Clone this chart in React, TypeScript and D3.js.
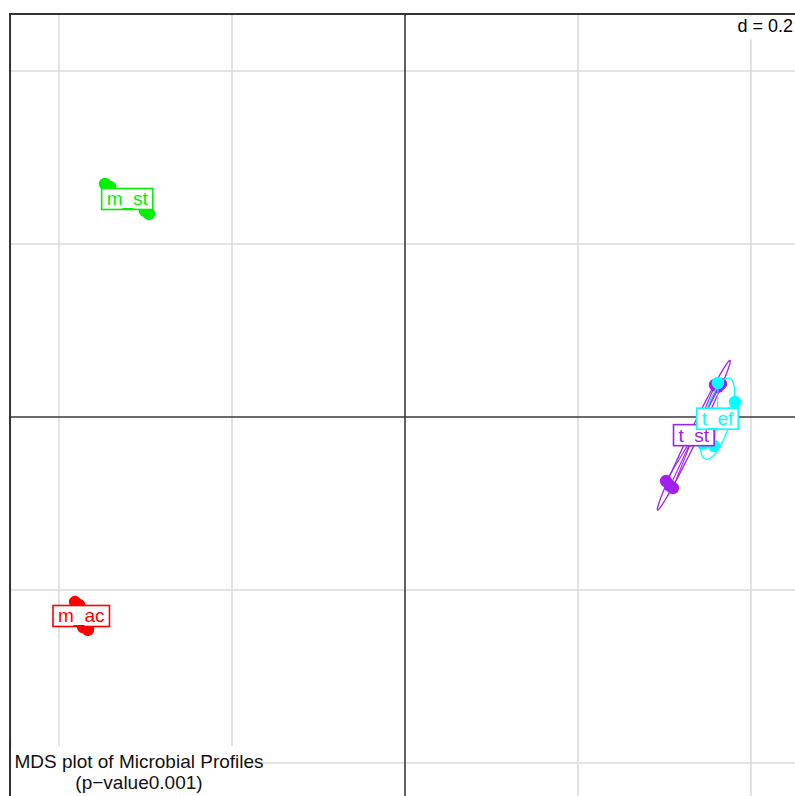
import React, { useEffect, useRef } from "react";
import * as d3 from "d3";

const W = 795;
const H = 796;

// group names & colours
const groups = ["m_st", "m_ac", "t_st", "t_ef"];
const groupColors = ["#00ee00", "#ff0000", "#a020f0", "#00ffff"];
const ellipseGroups = ["t_st", "t_ef"];

// sample coordinates (MDS axis 1, axis 2)
const mStX = [-0.3468, -0.341, -0.3006, -0.296];
const mStY = [0.2694, 0.2659, 0.2382, 0.2347];
const mAcX = [-0.3815, -0.3769, -0.3723, -0.3665];
const mAcY = [-0.2139, -0.2173, -0.2428, -0.2462];
const tStX = [0.3584, 0.3618, 0.3653, 0.3017, 0.3064, 0.3098];
const tStY = [0.037, 0.0347, 0.0382, -0.074, -0.0798, -0.0821];
const tEfX = [0.3618, 0.3815, 0.3572, 0.3445];
const tEfY = [0.0393, 0.0175, -0.0335, -0.031];

const groupXs = [mStX, mAcX, tStX, tEfX];
const groupYs = [mStY, mAcY, tStY, tEfY];

const gridTicks = [-0.4, -0.2, 0, 0.2, 0.4];
const gridStep = "d = 0.2";
const titleLines = ["MDS plot of Microbial Profiles", "(p\u2212value0.001)"];

const xLim = [-0.4566, 0.4566];
const yLim = [-0.4659, 0.4659];

export default function App() {
  const ref = useRef<SVGSVGElement>(null);

  useEffect(() => {
    document.body.style.margin = "0";
    const svg = d3.select(ref.current);
    svg.selectAll("*").remove();

    const x = d3.scaleLinear().domain([-0.4, 0.4]).range([59, 751]);
    const y = d3.scaleLinear().domain([-0.4, 0.4]).range([763, 71]);
    const font = "'Liberation Sans', Arial, Helvetica, sans-serif";

    const canvas = document.createElement("canvas");
    const ctx = canvas.getContext("2d")!;

    // background
    svg.append("rect").attr("x", 0).attr("y", 0).attr("width", W).attr("height", H).attr("fill", "#fff");

    // grid
    const grid = svg.append("g");
    gridTicks.forEach((t) => {
      if (t === 0) return;
      grid.append("line").attr("x1", x(t)).attr("x2", x(t)).attr("y1", y(yLim[1])).attr("y2", y(yLim[0]))
        .attr("stroke", "#dadada").attr("stroke-width", 1.5);
      grid.append("line").attr("y1", y(t)).attr("y2", y(t)).attr("x1", x(xLim[0])).attr("x2", x(xLim[1]))
        .attr("stroke", "#dadada").attr("stroke-width", 1.5);
    });
    // axes
    grid.append("line").attr("x1", x(0)).attr("x2", x(0)).attr("y1", y(yLim[1])).attr("y2", y(yLim[0]))
      .attr("stroke", "#3a3a3a").attr("stroke-width", 1.6);
    grid.append("line").attr("y1", y(0)).attr("y2", y(0)).attr("x1", x(xLim[0])).attr("x2", x(xLim[1]))
      .attr("stroke", "#3a3a3a").attr("stroke-width", 1.6);

    const line = d3.line<[number, number]>().x((d) => x(d[0])).y((d) => y(d[1]));

    const centroids: [number, number][] = [];
    groups.forEach((g, i) => {
      const xs = groupXs[i];
      const ys = groupYs[i];
      const n = xs.length;
      const mx = d3.mean(xs)!;
      const my = d3.mean(ys)!;
      centroids.push([mx, my]);
      const col = groupColors[i];
      const layer = svg.append("g");

      if (ellipseGroups.includes(g)) {
        let vx = 0, vy = 0, cxy = 0;
        for (let k = 0; k < n; k++) {
          vx += (xs[k] - mx) ** 2;
          vy += (ys[k] - my) ** 2;
          cxy += (xs[k] - mx) * (ys[k] - my);
        }
        vx /= n; vy /= n; cxy /= n;
        const tr = vx + vy;
        const det = vx * vy - cxy * cxy;
        const disc = Math.sqrt(Math.max(tr * tr / 4 - det, 0));
        const l1 = tr / 2 + disc;
        const l2 = Math.max(tr / 2 - disc, 0);
        const ang = Math.atan2(l1 - vx, cxy);
        const a = 1.5 * Math.sqrt(l1);
        const b = 1.5 * Math.sqrt(l2);
        const pts: [number, number][] = d3.range(0, 361, 3).map((deg) => {
          const t = (deg * Math.PI) / 180;
          const ex = a * Math.cos(t);
          const ey = b * Math.sin(t);
          return [mx + ex * Math.cos(ang) - ey * Math.sin(ang), my + ex * Math.sin(ang) + ey * Math.cos(ang)];
        });
        layer.append("path").attr("d", line(pts)!).attr("fill", "none").attr("stroke", col).attr("stroke-width", 1.3);
      }
      // star segments
      for (let k = 0; k < n; k++) {
        layer.append("line").attr("x1", x(mx)).attr("y1", y(my)).attr("x2", x(xs[k])).attr("y2", y(ys[k]))
          .attr("stroke", col).attr("stroke-width", 1.1);
      }
      // points
      for (let k = 0; k < n; k++) {
        layer.append("circle").attr("cx", x(xs[k])).attr("cy", y(ys[k])).attr("r", 6.2).attr("fill", col);
      }
    });

    // labels
    ctx.font = `19px ${font}`;
    groups.forEach((g, i) => {
      const [mx, my] = centroids[i];
      const w = ctx.measureText(g).width + 10;
      const h = 21;
      const cx = x(mx);
      const cy = y(my);
      svg.append("rect").attr("x", cx - w / 2).attr("y", cy - h / 2).attr("width", w).attr("height", h)
        .attr("fill", "#fff").attr("stroke", groupColors[i]).attr("stroke-width", 1.6);
      svg.append("text").attr("x", cx).attr("y", cy + 6.5).attr("text-anchor", "middle")
        .attr("font-family", font).attr("font-size", 19).attr("fill", groupColors[i]).text(g);
    });

    // frame
    svg.append("rect").attr("x", x(xLim[0])).attr("y", y(yLim[1]))
      .attr("width", x(xLim[1]) - x(xLim[0])).attr("height", y(yLim[0]) - y(yLim[1]))
      .attr("fill", "none").attr("stroke", "#333").attr("stroke-width", 2);

    // d = 0.2 box
    ctx.font = `18px ${font}`;
    const dw = ctx.measureText(gridStep).width;
    const right = 793;
    svg.append("rect").attr("x", right - dw - 6).attr("y", y(yLim[1]) + 1.5).attr("width", dw + 12).attr("height", 24)
      .attr("fill", "#fff");
    svg.append("text").attr("x", right).attr("y", 32).attr("text-anchor", "end")
      .attr("font-family", font).attr("font-size", 18).attr("fill", "#000").text(gridStep);

    // title box
    ctx.font = `19px ${font}`;
    const tw = ctx.measureText(titleLines[0]).width;
    svg.append("rect").attr("x", x(xLim[0]) + 1).attr("y", 746).attr("width", tw - 15).attr("height", 60)
      .attr("fill", "#fff");
    titleLines.forEach((t, k) => {
      svg.append("text").attr("x", 139).attr("y", 768 + k * 21).attr("text-anchor", "middle")
        .attr("font-family", font).attr("font-size", 19).attr("fill", "#111").text(t);
    });
    // redraw left frame segment over title box
    svg.append("line").attr("x1", x(xLim[0])).attr("x2", x(xLim[0])).attr("y1", 740).attr("y2", H)
      .attr("stroke", "#333").attr("stroke-width", 2);
  }, []);

  return (
    <svg ref={ref} width={W} height={H} style={{ position: "absolute", left: 0, top: 0, display: "block" }} />
  );
}
